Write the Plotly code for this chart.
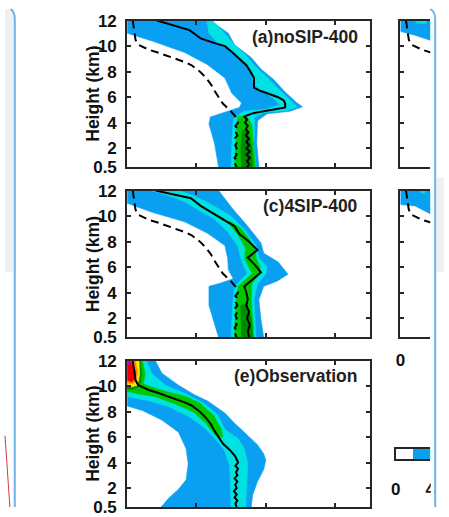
import plotly.graph_objects as go

W, H = 449, 517

# ---------------------------------------------------------------------------
# Frequency levels (%) and their fill colours (lowest band is blank)
LEVELS = [0, 2, 4, 6, 8, 10, 12, 14, 16]
LEVEL_COLORS = ["#ffffff", "#0aa0f2", "#00e2e2", "#00c800", "#008c00",
                "#ffe600", "#ff8c00", "#f00000", "#c800c8"]

# Outlines of the region where frequency >= level; (x, height km) pairs
NOSIP_GE2 = [(0, 12), (12, 12), (14.6, 11.0), (15.5, 10.1), (17.9, 9.1), (19.3, 8.2), (21.1, 7.4),
             (22.8, 6.4), (24.4, 5.6), (25.3, 5.25), (23.5, 4.9), (20.2, 4.7), (18.8, 4.15),
             (18.7, 2.4), (19.0, 0.5), (13.2, 0.5), (12.6, 2.4), (11.8, 3.9), (12.0, 4.45),
             (14.1, 4.8), (16.2, 5.2), (16.5, 5.55), (15.1, 6.3), (14.1, 7.5), (11.6, 8.55),
             (8.3, 9.5), (3.6, 10.4), (0, 11.0)]
NOSIP_GE4 = [(11.5, 12), (12.3, 12), (13.9, 11.1), (15.3, 10.2), (17.1, 9.3), (18.5, 8.4),
             (20.3, 7.5), (21.9, 6.6), (23.6, 5.75), (24.5, 5.25), (23.0, 4.95), (19.7, 4.8),
             (18.4, 4.45), (18.3, 2.4), (18.6, 0.5), (15.0, 0.5), (15.1, 2.4), (15.3, 4.3),
             (16.8, 4.9), (20.0, 5.05), (22.0, 5.4), (21.0, 6.0), (19.2, 6.5), (18.3, 7.0),
             (17.8, 8.0), (16.5, 8.9), (15.0, 9.6), (13.0, 10.3), (11.8, 11.0)]
NOSIP_GE6 = [(16.0, 4.5), (17.3, 4.5), (18.0, 3.8), (18.3, 2.0), (18.5, 0.5), (15.5, 0.5),
             (15.6, 2.0), (15.8, 3.5)]
NOSIP_GE8 = [(16.6, 3.4), (17.4, 3.4), (18.0, 2.0), (18.1, 0.5), (16.5, 0.5), (16.4, 2.0)]

SIP4_GE2 = [(0, 12), (13.2, 12), (15.1, 10.65), (17.4, 9.2), (19.3, 7.9), (19.7, 7.1), (21.8, 6.4),
            (23.2, 5.45), (21.6, 4.9), (19.7, 4.5), (19.0, 3.45), (19.3, 1.95), (19.7, 0.5),
            (13.2, 0.5), (11.8, 3.0), (11.8, 4.5), (13.4, 4.75), (15.3, 5.1), (14.6, 5.8),
            (14.5, 6.7), (14.1, 7.7), (11.6, 8.65), (8.3, 9.55), (3.6, 10.3), (0, 11.0)]
SIP4_GE4 = [(3.4, 12), (7.5, 12), (10.0, 11.5), (12.5, 10.8), (15.0, 10.0), (16.9, 8.95),
            (18.6, 7.7), (19.0, 6.7), (20.2, 6.05), (20.0, 5.45), (18.8, 4.7), (18.3, 3.45),
            (18.6, 0.5), (15.0, 0.5), (15.2, 3.0), (15.5, 4.5), (17.3, 5.5), (16.5, 6.5),
            (16.0, 7.6), (14.5, 8.8), (12.5, 9.8), (10.0, 10.6), (8.0, 11.2), (5.5, 11.7)]
SIP4_GE6 = [(14.8, 9.6), (16.4, 9.05), (17.6, 8.2), (18.5, 7.3), (18.6, 6.7), (19.2, 6.0),
            (19.0, 5.4), (18.0, 4.7), (17.9, 3.5), (18.3, 0.5), (15.5, 0.5), (15.7, 3.0),
            (16.0, 4.5), (18.0, 5.5), (17.0, 6.6), (17.0, 7.6), (16.0, 8.5), (15.0, 9.2)]
SIP4_GE8 = [(16.4, 3.0), (17.2, 3.2), (17.9, 2.0), (18.1, 0.5), (16.5, 0.5), (16.4, 1.8)]

OBS_GE2 = [(0, 12), (4.1, 12), (5.0, 11.05), (7.4, 10.1), (9.7, 9.35), (11.6, 8.85), (14.1, 7.9),
           (15.5, 7.1), (16.9, 6.4), (18.8, 5.4), (19.7, 4.7), (20.0, 4.2), (19.7, 3.45),
           (18.8, 2.5), (18.1, 1.45), (17.9, 0.5), (4.9, 0.5), (6.0, 1.2), (7.4, 1.9),
           (8.5, 2.65), (8.8, 3.9), (8.5, 5.1), (7.4, 6.4), (5.0, 7.35), (2.2, 8.1), (0, 8.45)]
OBS_GE4 = [(0, 12), (2.8, 12), (3.6, 11.0), (5.5, 10.1), (8.5, 9.4), (11.0, 8.7), (13.0, 7.8),
           (14.1, 6.6), (16.0, 5.9), (16.9, 5.1), (17.4, 3.9), (17.2, 2.1), (17.1, 0.5),
           (15.0, 0.5), (14.9, 2.0), (14.8, 3.8), (14.0, 5.0), (12.5, 6.0), (11.0, 6.8),
           (9.0, 7.6), (6.0, 8.4), (3.0, 8.9), (0, 9.2)]
OBS_GE6 = [(0, 12), (2.2, 12), (2.6, 11.0), (2.3, 10.2), (3.5, 9.95), (6.0, 9.55), (8.3, 9.25),
           (10.5, 8.7), (12.5, 7.7), (13.6, 6.6), (13.8, 6.0), (12.8, 6.1), (11.2, 7.2),
           (9.5, 8.0), (7.0, 8.6), (4.0, 9.2), (1.8, 9.4), (0, 9.6)]
OBS_GE8 = [(0, 12), (1.9, 12), (2.1, 11.0), (1.8, 10.0), (0.8, 9.75), (0, 9.8)]
OBS_GE10 = [(0.1, 12), (1.7, 12), (1.8, 11.0), (1.5, 10.1), (0.6, 9.95), (0, 10.1)]
OBS_GE12 = [(0, 12), (1.2, 12), (1.5, 11.0), (1.1, 10.3), (0.3, 10.2), (0, 10.4)]
OBS_GE14 = [(0, 11.8), (0.5, 12), (1.2, 11.2), (1.2, 10.6), (0.6, 10.35), (0, 10.5)]
OBS_GE16 = [(0, 12), (0.35, 12), (0.3, 11.7), (0, 11.6)]

NOSIP800_GE2 = [(0, 12), (6, 12), (6, 10.2), (4.6, 10.4), (2.1, 10.85), (0, 11.15)]
NOSIP800_GE4 = [(2.1, 12), (3.8, 12), (3.6, 11.75), (2.3, 11.8)]
SIP4800_GE2 = [(0, 12), (6, 12), (6, 9.9), (4.6, 10.1), (2.1, 10.8), (0, 10.9)]
SIP4800_GE4 = [(2.9, 12), (3.6, 12), (3.5, 11.8), (3.0, 11.8)]

# Median profiles
OBS_MED_H = [12, 11.5, 11, 10.5, 10.1, 9.9, 9.7, 9.5, 9.25, 9.0, 8.75, 8.5, 8.0, 7.5, 7.0, 6.5,
             6.0, 5.5, 5.0, 4.5, 4.0, 3.75, 3.5, 3.25, 3.0, 2.75, 2.5, 2.25, 2.0, 1.75, 1.5,
             1.25, 1.0, 0.75, 0.5]
OBS_MED_X = [0.8, 0.9, 1.0, 1.2, 1.6, 2.3, 3.2, 4.4, 5.8, 7.0, 8.3, 9.3, 10.5, 11.4, 12.1, 12.6,
             13.2, 13.8, 14.8, 15.6, 16.0, 15.6, 16.0, 15.7, 15.9, 15.5, 15.9, 15.6, 15.8, 15.4,
             15.8, 15.5, 15.9, 15.6, 15.8]

NOSIP_MED_H = [12, 11.5, 11.25, 11, 10.6, 10.25, 10, 9.5, 9, 8.5, 8, 7.5, 7, 6.75, 6.5, 6.25,
               6, 5.75, 5.5, 5.2, 5.0, 4.75, 4.5, 4.25, 4.0, 3.75, 3.5, 3.25, 3.0, 2.75, 2.5,
               2.25, 2.0, 1.75, 1.5, 1.25, 1.0, 0.75, 0.5]
NOSIP_MED_X = [4.3, 7.6, 9.0, 9.6, 10.6, 12.5, 14.1, 15.2, 16.2, 17.2, 17.8, 18.3, 18.3, 18.3,
               19.2, 20.4, 21.8, 22.6, 22.8, 22.8, 20.5, 18.2, 16.9, 17.3, 17.0, 17.4, 17.1,
               17.5, 17.1, 17.6, 17.2, 17.6, 17.2, 17.7, 17.2, 17.7, 17.3, 17.6, 17.3]

SIP4_MED_H = [12, 11.4, 10.8, 10.2, 9.7, 9.2, 8.6, 8.1, 7.35, 6.75, 6.2, 5.6, 5.0, 4.5, 4.0,
              3.5, 3.0, 2.5, 2.0, 1.5, 1.0, 0.5]
SIP4_MED_X = [4.1, 9.2, 10.6, 12.5, 14.1, 15.5, 16.2, 17.4, 18.8, 17.4, 18.4, 19.3, 18.0, 16.9,
              17.2, 17.4, 17.2, 17.6, 17.3, 17.7, 17.4, 17.6]

Y_TICKS = [0.5, 2, 4, 6, 8, 10, 12]
X_TICKS = [0, 10, 20, 30]
CB_TICKS = [0, 4, 8, 12, 16]

AX_COLOR = "#262626"
TXT_COLOR = "#231f20"
FONT = "Liberation Sans"

fig = go.Figure()


def add_bands(bands, xa, ya):
    for level, pts in bands:
        color = LEVEL_COLORS[LEVELS.index(level)]
        xs = [p[0] for p in pts] + [pts[0][0]]
        hs = [p[1] for p in pts] + [pts[0][1]]
        fig.add_trace(go.Scatter(x=xs, y=hs, mode="lines", fill="toself", fillcolor=color,
                                 line=dict(width=0.6, color=color), hoverinfo="skip",
                                 showlegend=False, xaxis=xa, yaxis=ya))


def add_median(xs, hs, xa, ya, dashed):
    fig.add_trace(go.Scatter(x=xs, y=hs, mode="lines",
                             line=dict(color="black", width=2,
                                       dash="8px,5px" if dashed else "solid"),
                             hoverinfo="skip", showlegend=False, xaxis=xa, yaxis=ya))


add_bands([(2, NOSIP_GE2), (4, NOSIP_GE4), (6, NOSIP_GE6), (8, NOSIP_GE8)], "x", "y")
add_median(NOSIP_MED_X, NOSIP_MED_H, "x", "y", False)
add_median(OBS_MED_X, OBS_MED_H, "x", "y", True)

add_bands([(2, NOSIP800_GE2), (4, NOSIP800_GE4)], "x2", "y2")
add_median(OBS_MED_X, OBS_MED_H, "x2", "y2", True)

add_bands([(2, SIP4_GE2), (4, SIP4_GE4), (6, SIP4_GE6), (8, SIP4_GE8)], "x3", "y3")
add_median(SIP4_MED_X, SIP4_MED_H, "x3", "y3", False)
add_median(OBS_MED_X, OBS_MED_H, "x3", "y3", True)

add_bands([(2, SIP4800_GE2), (4, SIP4800_GE4)], "x4", "y4")
add_median(OBS_MED_X, OBS_MED_H, "x4", "y4", True)

add_bands([(2, OBS_GE2), (4, OBS_GE4), (6, OBS_GE6), (8, OBS_GE8), (10, OBS_GE10),
           (12, OBS_GE12), (14, OBS_GE14), (16, OBS_GE16)], "x5", "y5")
add_median(OBS_MED_X, OBS_MED_H, "x5", "y5", False)

# colour bar drawn as a one-row heatmap of the level bands
n = len(LEVELS)
cscale = []
for i, c in enumerate(LEVEL_COLORS):
    cscale.append([i / n, c])
    cscale.append([(i + 1) / n, c])
fig.add_trace(go.Heatmap(x=[lv + 1 for lv in LEVELS], y=[0], z=[list(range(n))],
                         zmin=-0.5, zmax=n - 0.5, colorscale=cscale, showscale=False,
                         hoverinfo="skip", xaxis="x6", yaxis="y6"))


def dx(l, r):
    return [l / W, r / W]


def dy(t, b):
    return [1 - b / H, 1 - t / H]


def bold(v):
    return ["<b>%s</b>" % t for t in v]


tick_font = dict(family=FONT, size=17, color="#111111")
base = dict(showline=True, linecolor=AX_COLOR, linewidth=2, ticks="inside", ticklen=4,
            tickwidth=1.5, tickcolor=AX_COLOR, showgrid=False, zeroline=False,
            tickfont=tick_font, fixedrange=True)

main_x = dict(base, range=[0, 35], tickvals=X_TICKS, ticktext=bold([str(v) for v in X_TICKS]),
              mirror="allticks", showticklabels=False)
side_x_range = [0, 30.5 * 35 / 248]
y_text = bold(["0.5", "2", "4", "6", "8", "10", "12"])
main_y = dict(base, range=[0.5, 12], tickvals=Y_TICKS, ticktext=y_text, mirror="allticks",
              ticklabelstandoff=5)
side_y = dict(base, range=[0.5, 12], tickvals=Y_TICKS, ticktext=y_text, showticklabels=False)

layout = dict(
    width=W, height=H, margin=dict(l=0, r=0, t=0, b=0),
    paper_bgcolor="white", plot_bgcolor="white", showlegend=False,
    xaxis=dict(main_x, domain=dx(125, 373), anchor="y"),
    yaxis=dict(main_y, domain=dy(12, 164.5), anchor="x"),
    xaxis2=dict(main_x, domain=dx(404.5, 435), anchor="y2", range=side_x_range, mirror="ticks"),
    yaxis2=dict(side_y, domain=dy(12, 164.5), anchor="x2"),
    xaxis3=dict(main_x, domain=dx(125, 373), anchor="y3"),
    yaxis3=dict(main_y, domain=dy(188.5, 341), anchor="x3"),
    xaxis4=dict(main_x, domain=dx(404.5, 435), anchor="y4", range=side_x_range, mirror="ticks",
                showticklabels=True, ticklabelstandoff=6),
    yaxis4=dict(side_y, domain=dy(188.5, 341), anchor="x4"),
    xaxis5=dict(main_x, domain=dx(125, 373), anchor="y5"),
    yaxis5=dict(main_y, domain=dy(365.5, 517), anchor="x5"),
    xaxis6=dict(base, domain=dx(399.7, 435), anchor="y6", range=[0, 4.02], tickvals=CB_TICKS,
                ticktext=bold([str(v) for v in CB_TICKS]), ticks="", mirror=True,
                ticklabelstandoff=13),
    yaxis6=dict(base, domain=dy(456.3, 467.3), anchor="x6", range=[-0.5, 0.5], ticks="",
                showticklabels=False),
)
fig.update_layout(**layout)

title_font = dict(family=FONT, size=17.5, color=TXT_COLOR)
for label, py in [("(a)noSIP-400", 29), ("(c)4SIP-400", 204.5), ("(e)Observation", 381.5)]:
    fig.add_annotation(text="<b>%s</b>" % label, x=363 / W, y=1 - py / H, xref="paper",
                       yref="paper", xanchor="right", yanchor="middle", showarrow=False,
                       font=title_font)
for py in [88, 265, 441]:
    fig.add_annotation(text="<b>Height (km)</b>", x=90 / W, y=1 - py / H, xref="paper",
                       yref="paper", xanchor="center", yanchor="middle", textangle=-90,
                       showarrow=False, font=dict(family=FONT, size=17.5, color="#111111"))

# surrounding window frame
frame_blue = "#6db3ec"
shapes = [
    dict(type="rect", xref="paper", yref="paper", x0=0, x1=9 / W, y0=1 - 273 / H, y1=1,
         fillcolor="#f0f0f0", line=dict(width=0), layer="below"),
    dict(type="rect", xref="paper", yref="paper", x0=441.5 / W, x1=1, y0=1 - 273 / H,
         y1=1 - 175 / H, fillcolor="#f0f0f0", line=dict(width=0), layer="below"),
    dict(type="rect", xref="paper", yref="paper", x0=435.5 / W, x1=439 / W, y0=0, y1=1,
         fillcolor="white", line=dict(width=0), layer="above"),
    dict(type="path", xref="paper", yref="paper",
         path="M %f %f Q %f %f %f %f L %f %f" % (6 / W, 1, 10 / W, 1 - 4 / H, 10 / W, 1 - 10 / H,
                                                 10 / W, 0),
         line=dict(color=frame_blue, width=2), layer="above"),
    dict(type="path", xref="paper", yref="paper",
         path="M %f %f Q %f %f %f %f L %f %f" % (435 / W, 1, 440 / W, 1 - 3 / H, 440 / W,
                                                 1 - 10 / H, 440 / W, 0),
         line=dict(color=frame_blue, width=2), layer="above"),
    dict(type="line", xref="paper", yref="paper", x0=0, y0=1 - 443 / H, x1=5 / W, y1=0,
         line=dict(color="#d23a4a", width=1), layer="above"),
]
fig.update_layout(shapes=shapes)

fig.write_html("out.html")
